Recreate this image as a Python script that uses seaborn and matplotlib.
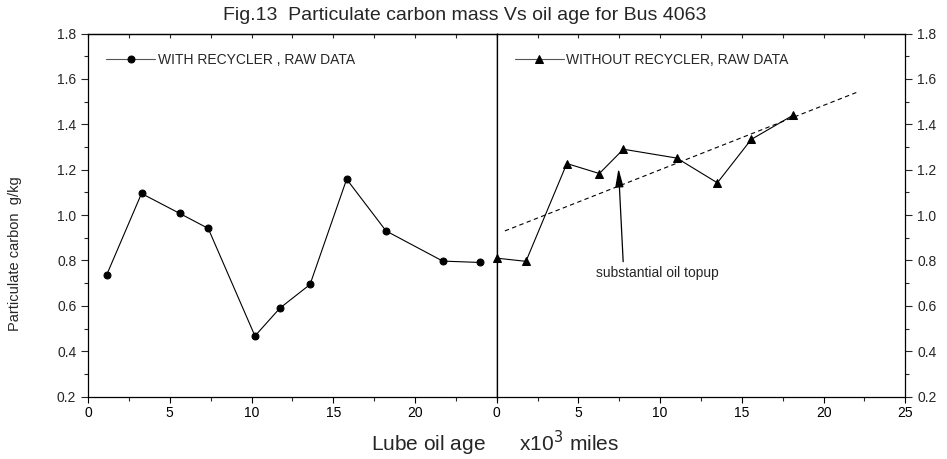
import numpy as np
import matplotlib
matplotlib.use("Agg")
import matplotlib.pyplot as plt
import seaborn as sns

# datos
x_with = [1.13, 3.27, 5.61, 7.35, 10.21, 11.74, 13.58, 15.82, 18.23, 21.7, 24.0]
y_with = [0.735, 1.095, 1.007, 0.941, 0.467, 0.59, 0.694, 1.158, 0.93, 0.797, 0.791]

x_without = [0.0, 1.79, 4.29, 6.28, 7.75, 11.02, 13.5, 15.57, 18.13]
y_without = [0.81, 0.796, 1.227, 1.183, 1.29, 1.251, 1.142, 1.333, 1.44]

# linea de tendencia (extremos)
trend_x = [0.5, 22.0]
trend_y = [0.93, 1.54]

left_xticks = [0, 5, 10, 15, 20]
right_xticks = [0, 5, 10, 15, 20, 25]
yticks = [0.2, 0.4, 0.6, 0.8, 1.0, 1.2, 1.4, 1.6, 1.8]

sns.set_style("ticks")
plt.rcParams['font.family'] = ['Liberation Sans', 'DejaVu Sans']
plt.rcParams['axes.linewidth'] = 0.9

fig, (ax1, ax2) = plt.subplots(1, 2, sharey=True, figsize=(9.47, 4.59), dpi=100)
fig.subplots_adjust(left=0.093, right=0.956, top=0.927, bottom=0.136, wspace=0)

sns.lineplot(x=x_with, y=y_with, ax=ax1, color='black', linewidth=0.8,
             marker='o', markersize=5, markeredgecolor='black',
             label='WITH RECYCLER , RAW DATA', clip_on=False)
sns.lineplot(x=x_without, y=y_without, ax=ax2, color='black', linewidth=0.8,
             marker='^', markersize=6, markeredgecolor='black',
             label='WITHOUT RECYCLER, RAW DATA', clip_on=False)
sns.lineplot(x=trend_x, y=trend_y, ax=ax2, color='black', linewidth=0.8,
             linestyle=(0, (4, 3)), legend=False)

for ax in (ax1, ax2):
    ax.set_xlim(0, 25)
    ax.set_ylim(0.2, 1.8)
    ax.set_xlabel('')
    ax.set_ylabel('')
    ax.set_xticks(np.arange(0, 25.1, 2.5), minor=True)
    ax.set_yticks(np.arange(0.2, 1.81, 0.1), minor=True)
    ax.tick_params(axis='x', which='major', direction='out', length=4, width=0.8,
                   labelsize=10, pad=3, colors='black')
    ax.tick_params(axis='x', which='minor', direction='out', length=3, width=0.8)
    top = ax.secondary_xaxis('top')
    top.set_xticks(np.arange(0, 25.1, 2.5))
    top.tick_params(direction='in', length=3, width=0.8, labeltop=False)
    top.spines['top'].set_linewidth(0.9)
    for s in ax.spines.values():
        s.set_color('black')
    leg = ax.legend(loc='center left', bbox_to_anchor=(0.045, 0.927), frameon=False,
                    fontsize=10, handlelength=3.5, handletextpad=0.2,
                    borderpad=0, borderaxespad=0)
    for h in leg.legend_handles:
        h.set_color('#555555')
        h.set_markerfacecolor('black')
        h.set_markeredgecolor('black')

ax1.set_xticks(left_xticks)
ax2.set_xticks(right_xticks)
ax1.set_yticks(yticks)
ax1.set_yticklabels([f'{v:.1f}' for v in yticks])
ax1.tick_params(axis='y', which='major', direction='out', length=5, width=0.8,
                labelsize=10, left=True, right=False)
ax1.tick_params(axis='y', which='minor', direction='out', length=3, width=0.8,
                left=True, right=False)

div = ax1.secondary_yaxis('right')
div.set_yticks(np.arange(0.2, 1.81, 0.1))
div.tick_params(direction='out', length=2, width=0.8, labelright=False)

ax2.tick_params(axis='y', which='both', left=False, right=True, labelleft=False,
                labelright=True, direction='out', width=0.8)
ax2.tick_params(axis='y', which='major', length=5, labelsize=10)
ax2.tick_params(axis='y', which='minor', length=3)

ax2.annotate('substantial oil topup', xy=(7.45, 1.205), xytext=(6.1, 0.743),
             fontsize=10, va='center', ha='left',
             arrowprops=dict(arrowstyle='-|>,head_length=0.8,head_width=0.18',
                             color='black', lw=0.9, relpos=(0.22, 1.0),
                             shrinkA=1, shrinkB=0, mutation_scale=14))

fig.text(0.491, 0.967, 'Fig.13  Particulate carbon mass Vs oil age for Bus 4063',
         ha='center', va='center', fontsize=14)
fig.text(0.523, 0.035, 'Lube oil age      x10$^3$ miles', ha='center', va='center',
         fontsize=15)
fig.text(0.016, 0.447, 'Particulate carbon  g/kg', rotation=90, ha='center',
         va='center', fontsize=10.5)

plt.savefig('out.png', dpi=100)
